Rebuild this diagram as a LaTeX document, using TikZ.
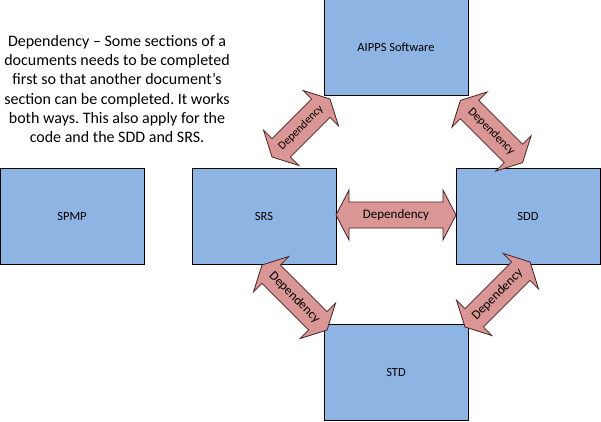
\documentclass[tikz,border=0pt]{standalone}
\usepackage{fontspec}
\setmainfont{Carlito}
\frenchspacing
\definecolor{boxblue}{RGB}{142,180,227}
\definecolor{arrowfill}{RGB}{217,150,148}
\definecolor{arrowline}{RGB}{70,35,35}
\tikzset{
  docbox/.style={draw=black, line width=1pt, fill=boxblue, minimum width=144pt, minimum height=96pt, inner sep=0pt, font=\fontsize{12.5}{15}\selectfont},
  deparrow/.style={draw=arrowline, line width=0.8pt, fill=arrowfill, line join=miter},
  deplabel/.style={font=\fontsize{13}{15}\selectfont, inner sep=0pt},
  notetext/.style={align=center, font=\fontsize{16}{19.2}\selectfont, inner sep=0pt}
}
\newcommand\deparr[6]{%
  \begin{scope}[shift={(#2,#3)}, rotate=#4]
    \pgfmathsetmacro\arrHalf{#5/2}
    \pgfmathsetmacro\arrBase{#5/2-13}
    \draw[deparrow] (-\arrHalf,0) -- (-\arrBase,25) -- (-\arrBase,13) -- (\arrBase,13) -- (\arrBase,25) -- (\arrHalf,0) -- (\arrBase,-25) -- (\arrBase,-13) -- (-\arrBase,-13) -- (-\arrBase,-25) -- cycle;
    \node[deplabel, rotate=#4, font=\fontsize{#6}{15}\selectfont] (#1) at (0,0) {Dependency};
  \end{scope}}
\begin{document}
\begin{tikzpicture}[x=1pt,y=1pt]
  \useasboundingbox (0,0) rectangle (601,421);
  \fill[white] (0,0) rectangle (601,421);
  \node[docbox] (aipps) at (396,373.5) {AIPPS Software};
  \node[docbox] (spmp) at (72,205) {SPMP};
  \node[docbox] (srs) at (264,205) {SRS};
  \node[docbox] (sdd) at (528,205) {SDD};
  \node[docbox] (std) at (396,49) {STD};
  \deparr{dh}{396}{206}{0}{120}{13}
  \deparr{d1}{301}{293}{45}{82}{11.5}
  \deparr{d2}{491.5}{289.5}{-45}{88}{12}
  \deparr{d3}{294.5}{123.5}{-45}{92}{13}
  \deparr{d4}{497.5}{126.5}{45}{92}{13}
  \node[notetext] (note) at (117,332) {Dependency -- Some sections of a\\documents needs to be completed\\first so that another document’s\\section can be completed. It works\\both ways. This also apply for the\\code and the SDD and SRS.};
\end{tikzpicture}
\end{document}
